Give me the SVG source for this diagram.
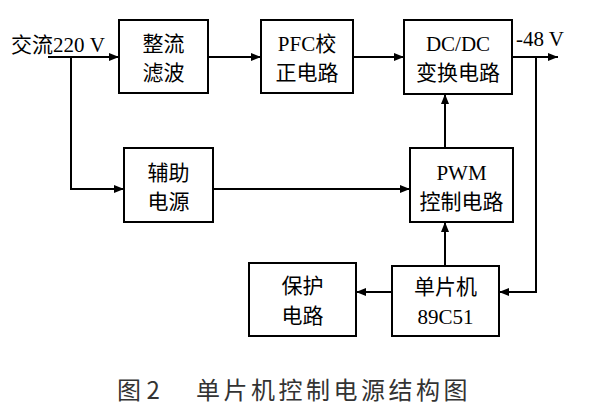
<svg xmlns="http://www.w3.org/2000/svg" width="599" height="406" viewBox="0 0 599 406">
<defs>
<marker id="ah" viewBox="0 0 10 10" refX="10" refY="5" markerWidth="10" markerHeight="10" markerUnits="userSpaceOnUse" orient="auto">
<path d="M0,1 L10,5 L0,9 Z" fill="#000"/>
</marker>
</defs>
<style>
.box{fill:#fff;stroke:#000;stroke-width:2}
.t{font-family:"Liberation Serif","Noto Sans CJK SC",serif;font-size:21px;fill:#000;text-anchor:middle}
.ln{fill:none;stroke:#000;stroke-width:2}
.cap{font-family:"Noto Sans CJK SC","Liberation Sans",sans-serif;font-size:24px;fill:#333}
</style>
<rect width="599" height="406" fill="#fff"/>
<g id="connectors">
<path class="ln" d="M48,57 H119" marker-end="url(#ah)"/>
<path class="ln" d="M71,57 V189 H124" marker-end="url(#ah)"/>
<path class="ln" d="M208,57 H261" marker-end="url(#ah)"/>
<path class="ln" d="M353,57 H404" marker-end="url(#ah)"/>
<path class="ln" d="M512,57 H558" marker-end="url(#ah)"/>
<path class="ln" d="M213,189 H410" marker-end="url(#ah)"/>
<path class="ln" d="M445,148 V94" marker-end="url(#ah)"/>
<path class="ln" d="M445,266 V222" marker-end="url(#ah)"/>
<path class="ln" d="M536,57 V292 H499" marker-end="url(#ah)"/>
<path class="ln" d="M392,292 H356" marker-end="url(#ah)"/>
</g>
<g id="input"><text class="t" x="11" y="52" style="text-anchor:start">交流220 V</text></g>
<g id="output"><text class="t" x="516" y="46" style="text-anchor:start">-48 V</text></g>
<g id="rectifier">
<rect class="box" x="119" y="20" width="89" height="73"/>
<text class="t" x="163.5" y="51">整流</text>
<text class="t" x="163.5" y="80">滤波</text>
</g>
<g id="pfc">
<rect class="box" x="261" y="20" width="92" height="73"/>
<text class="t" x="307" y="51">PFC校</text>
<text class="t" x="307" y="80">正电路</text>
</g>
<g id="dcdc">
<rect class="box" x="404" y="20" width="108" height="74"/>
<text class="t" x="458" y="51">DC/DC</text>
<text class="t" x="458" y="80">变换电路</text>
</g>
<g id="aux">
<rect class="box" x="124" y="148" width="89" height="74"/>
<text class="t" x="168.5" y="180">辅助</text>
<text class="t" x="168.5" y="209">电源</text>
</g>
<g id="pwm">
<rect class="box" x="410" y="148" width="103" height="74"/>
<text class="t" x="461.5" y="180">PWM</text>
<text class="t" x="461.5" y="209">控制电路</text>
</g>
<g id="protect">
<rect class="box" x="249" y="263" width="107" height="73"/>
<text class="t" x="302.5" y="293">保护</text>
<text class="t" x="302.5" y="323">电路</text>
</g>
<g id="mcu">
<rect class="box" x="392" y="266" width="107" height="70"/>
<text class="t" x="445.5" y="294">单片机</text>
<text class="t" x="445.5" y="324">89C51</text>
</g>
<g id="caption"><text class="cap" y="399"><tspan x="117">图 2</tspan><tspan x="196" letter-spacing="3.5">单片机控制电源结构图</tspan></text></g>
</svg>
